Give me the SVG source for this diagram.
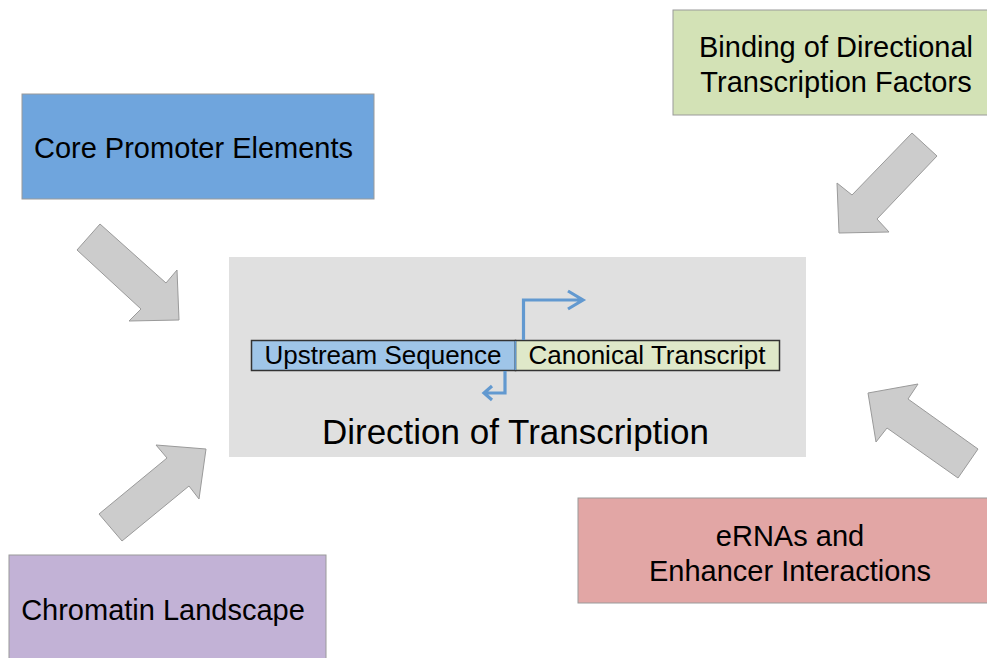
<svg xmlns="http://www.w3.org/2000/svg" width="987" height="658" viewBox="0 0 987 658">
<style>
text{font-family:"Liberation Sans",Arial,sans-serif;fill:#000}
.box{stroke:#9a9a9a;stroke-width:1}
.lbl{font-size:29px;text-anchor:middle}
.bar{font-size:26px;text-anchor:middle}
.blk{fill:#cccccc;stroke:#9a9a9a;stroke-width:1;stroke-linejoin:miter}
.tss{fill:none;stroke:#6299d0;stroke-width:3.2;stroke-linejoin:miter}
</style>
<rect width="987" height="658" fill="#ffffff"/>
<g id="center">
<rect x="229" y="257" width="577" height="200" fill="#e0e0e0"/>
<rect x="251.5" y="340.5" width="264" height="30" fill="#9fc5e8" stroke="#333" stroke-width="1.5"/>
<rect x="515.5" y="340.5" width="264" height="30" fill="#dfe8c9" stroke="#333" stroke-width="1.5"/>
<line x1="515.5" y1="341" x2="515.5" y2="370" stroke="#6299d0" stroke-width="1.5"/>
<text class="bar" x="383" y="364">Upstream Sequence</text>
<text class="bar" x="647" y="364">Canonical Transcript</text>
<path class="tss" d="M523.5 340 V300 H583 M568 291 L583 300 L568 309"/>
<path class="tss" d="M505 371 V393 H484 M492 386 L484 393 L492 400"/>
<text x="515.5" y="444" font-size="35" text-anchor="middle">Direction of Transcription</text>
</g>
<g id="core-promoter">
<rect class="box" x="22" y="94" width="352" height="105" fill="#6fa5dd"/>
<text class="lbl" x="193.5" y="158">Core Promoter Elements</text>
</g>
<g id="binding-tf">
<rect class="box" x="673" y="10" width="330" height="105" fill="#d3e2b6"/>
<text class="lbl" x="836" y="57">Binding of Directional</text>
<text class="lbl" x="836" y="92">Transcription Factors</text>
</g>
<g id="ernas">
<rect class="box" x="578" y="498" width="430" height="105" fill="#e2a6a5"/>
<text class="lbl" x="790" y="546">eRNAs and</text>
<text class="lbl" x="790" y="581">Enhancer Interactions</text>
</g>
<g id="chromatin">
<rect class="box" x="9" y="555" width="317" height="120" fill="#c2b2d6"/>
<text class="lbl" x="163" y="620">Chromatin Landscape</text>
</g>
<g id="connectors">
<polygon class="blk" points="100,224 166,283 177,270 179,320 129,321 141,309 77,250"/>
<polygon class="blk" points="912,133 937,156 877,219 889,232 839,233 837,183 852,195"/>
<polygon class="blk" points="918,384 868,393 876,442 887,428 958,478 978,449 908,399"/>
<polygon class="blk" points="99,514 122,541 189,486 199,499 206,449 156,445 167,458"/>
</g>
</svg>
